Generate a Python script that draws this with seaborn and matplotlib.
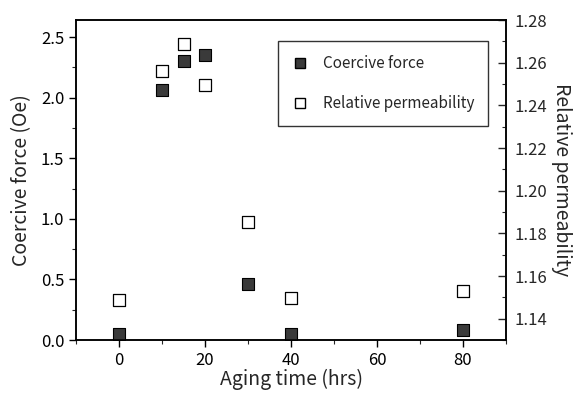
import matplotlib
matplotlib.use("Agg")
import matplotlib.pyplot as plt
from matplotlib.ticker import MultipleLocator
from matplotlib.lines import Line2D
import seaborn as sns
import pandas as pd

aging_time = [0, 10, 15, 20, 30, 40, 80]
coercive_force = [0.05, 2.06, 2.30, 2.35, 0.46, 0.05, 0.08]
relative_permeability = [1.1488, 1.2560, 1.2688, 1.2495, 1.1855, 1.1498, 1.1530]

sns.set_theme(style="ticks")
plt.rcParams['font.family'] = ['Noto Sans CJK JP', 'DejaVu Sans']

df = pd.DataFrame({"t": aging_time, "hc": coercive_force, "mu": relative_permeability})

fig = plt.figure(figsize=(5.82, 3.94), dpi=100)
ax = fig.add_axes([0.1306, 0.137, 0.7388, 0.812])
ax2 = ax.twinx()

sns.scatterplot(data=df, x="t", y="hc", ax=ax, marker="s", s=68, color="#3a3a3a",
                edgecolor="black", linewidth=0.8, zorder=3, legend=False)
sns.scatterplot(data=df, x="t", y="mu", ax=ax2, marker="s", s=78, color="white",
                edgecolor="black", linewidth=0.9, zorder=3, legend=False)

ax.set_xlim(-10, 90)
ax.set_ylim(0, 2.64)
ax2.set_ylim(1.13, 1.28)

ax.xaxis.set_major_locator(MultipleLocator(20))
ax.xaxis.set_minor_locator(MultipleLocator(10))
ax.yaxis.set_major_locator(MultipleLocator(0.5))
ax.yaxis.set_minor_locator(MultipleLocator(0.25))
ax2.yaxis.set_major_locator(MultipleLocator(0.02))
ax2.yaxis.set_minor_locator(MultipleLocator(0.01))

ax.yaxis.set_major_formatter(matplotlib.ticker.FormatStrFormatter('%.1f'))
ax2.yaxis.set_major_formatter(matplotlib.ticker.FormatStrFormatter('%.2f'))

ax.tick_params(axis='both', which='major', direction='out', length=5, width=1,
               labelsize=12, colors='black')
ax.tick_params(axis='both', which='minor', direction='out', length=3, width=0.8)
ax2.tick_params(axis='y', which='major', direction='in', length=6, width=1,
                labelsize=12, pad=6)
ax2.tick_params(axis='y', which='minor', direction='in', length=3, width=0.8)

for a in (ax, ax2):
    for sp in a.spines.values():
        sp.set_visible(True)
        sp.set_color('black')
        sp.set_linewidth(1.1)

ax.set_xlabel("Aging time (hrs)", fontsize=14, labelpad=0)
ax.set_ylabel("Coercive force (Oe)", fontsize=14, labelpad=6)
ax2.set_ylabel("Relative permeability", fontsize=14, rotation=270, labelpad=18)

handles = [
    Line2D([], [], marker='s', linestyle='none', markersize=6.5, markerfacecolor="#3a3a3a",
           markeredgecolor='black', label="Coercive force"),
    Line2D([], [], marker='s', linestyle='none', markersize=6.5, markerfacecolor="white",
           markeredgecolor='black', label="Relative permeability"),
]
leg = ax2.legend(handles=handles, loc='upper right', bbox_to_anchor=(0.958, 0.934),
                 borderaxespad=0, fontsize=11, frameon=True, fancybox=False, edgecolor='black',
                 handletextpad=1.0, borderpad=0.9, labelspacing=1.5, handlelength=1.0)
leg.get_frame().set_linewidth(1.0)

fig.savefig("out.png", dpi=100)
